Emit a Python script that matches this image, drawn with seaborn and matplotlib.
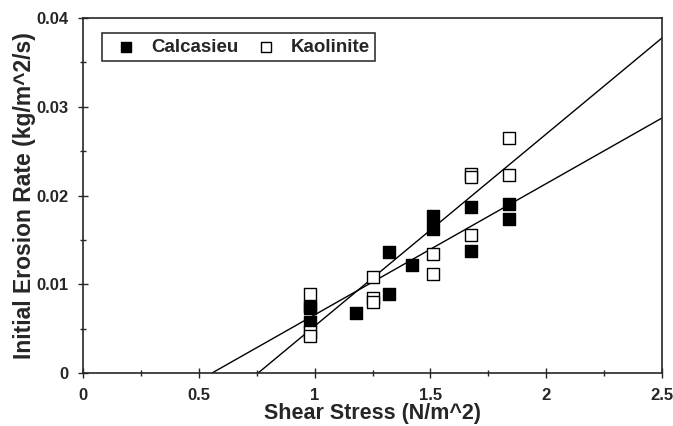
import matplotlib
matplotlib.use("Agg")
import matplotlib.pyplot as plt
import numpy as np
import pandas as pd
import seaborn as sns
from matplotlib.ticker import MultipleLocator

# Calcasieu (filled squares)
cal_x = [0.98, 0.98, 0.98, 1.18, 1.32, 1.32, 1.42, 1.51, 1.51, 1.675, 1.675, 1.84, 1.84]
cal_y = [0.0075, 0.0073, 0.0057, 0.0068, 0.0136, 0.0089, 0.0122, 0.0177, 0.0162, 0.0187, 0.0138, 0.0190, 0.0173]

# Kaolinite (open squares)
kao_x = [0.98, 0.98, 0.98, 1.25, 1.25, 1.25, 1.51, 1.51, 1.675, 1.675, 1.675, 1.84, 1.84]
kao_y = [0.0089, 0.0046, 0.0042, 0.0108, 0.0085, 0.0080, 0.0134, 0.0112, 0.0224, 0.0221, 0.0156, 0.0265, 0.0223]

# fitted lines (slope, intercept)
cal_fit = (0.01479, -0.00824)
kao_fit = (0.02165, -0.01637)

x_ticks = [0, 0.5, 1, 1.5, 2, 2.5]
x_labels = ["0", "0.5", "1", "1.5", "2", "2.5"]
y_ticks = [0, 0.01, 0.02, 0.03, 0.04]
y_labels = ["0", "0.01", "0.02", "0.03", "0.04"]

sns.set_style("ticks")
plt.rcParams['font.family'] = ['Liberation Sans', 'DejaVu Sans']
plt.rcParams['font.weight'] = 'bold'

fig, ax = plt.subplots(figsize=(6.73, 4.26), dpi=100)
fig.subplots_adjust(left=0.1233, right=0.9837, bottom=0.1244, top=0.9577)

cal = pd.DataFrame({"x": cal_x, "y": cal_y})
kao = pd.DataFrame({"x": kao_x, "y": kao_y})

# regression lines, starting where they cross zero
for slope, icpt in [kao_fit, cal_fit]:
    xs = np.array([-icpt / slope, 2.5])
    sns.lineplot(x=xs, y=slope * xs + icpt, ax=ax, color="black", lw=1.0)

sns.scatterplot(data=cal, x="x", y="y", ax=ax, marker="s", s=75,
                color="black", edgecolor="black", linewidth=1, label="Calcasieu", zorder=3)
sns.scatterplot(data=kao, x="x", y="y", ax=ax, marker="s", s=75,
                facecolor="white", edgecolor="black", linewidth=1, label="Kaolinite", zorder=3)

ax.set_xlim(0, 2.5)
ax.set_ylim(0, 0.04)
ax.set_xticks(x_ticks, x_labels)
ax.set_yticks(y_ticks, y_labels)
ax.xaxis.set_minor_locator(MultipleLocator(0.25))
ax.yaxis.set_minor_locator(MultipleLocator(0.005))
ax.tick_params(which="major", direction="inout", length=7, width=1, labelsize=12)
ax.tick_params(axis="x", which="major", pad=7)
ax.tick_params(axis="y", which="major", pad=7)
ax.tick_params(which="minor", direction="inout", length=5, width=1)
for s in ax.spines.values():
    s.set_linewidth(1.2)
    s.set_visible(True)

ax.set_xlabel("Shear Stress (N/m^2)", fontsize=15.5, fontweight="bold", labelpad=0)
ax.set_ylabel("Initial Erosion Rate (kg/m^2/s)", fontsize=16.5, fontweight="bold", labelpad=0)

leg = ax.legend(loc="upper left", bbox_to_anchor=(0.033, 0.958), ncol=2, frameon=True,
                fancybox=False, edgecolor="black", fontsize=13.5, handletextpad=0.3,
                columnspacing=0.5, borderpad=0.3, borderaxespad=0, markerscale=0.9)
leg.get_frame().set_linewidth(1.2)
for t in leg.get_texts():
    t.set_fontweight("bold")

fig.savefig("out.png", dpi=100)
